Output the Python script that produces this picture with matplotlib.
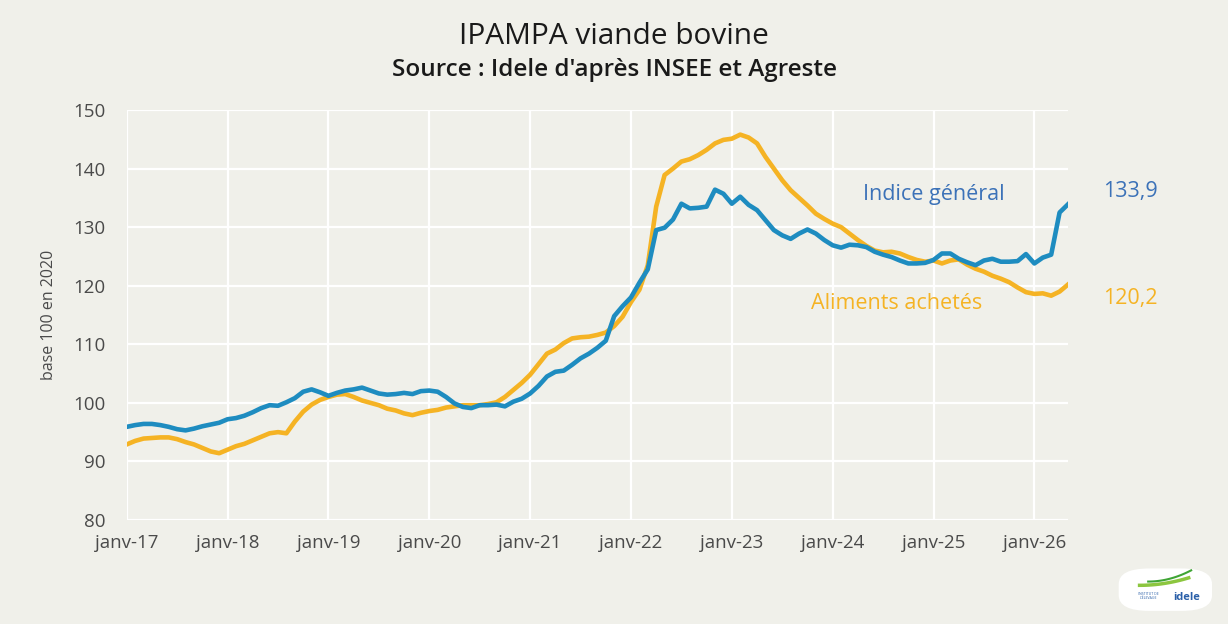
import numpy as np
import matplotlib
matplotlib.use("Agg")
import matplotlib.pyplot as plt
from matplotlib.patches import FancyBboxPatch

# monthly index, base 100 en 2020, janv-17 -> mai-26
indice_general = [
    95.9, 96.2, 96.4, 96.4, 96.2, 95.9, 95.5, 95.3, 95.6, 96.0, 96.3, 96.6,
    97.2, 97.4, 97.8, 98.4, 99.1, 99.6, 99.5, 100.1, 100.8, 101.9, 102.3, 101.8,
    101.2, 101.7, 102.1, 102.3, 102.6, 102.1, 101.6, 101.4, 101.5, 101.7, 101.5, 102.0,
    102.1, 101.9, 101.0, 99.9, 99.3, 99.1, 99.6, 99.6, 99.7, 99.4, 100.2, 100.7,
    101.6, 102.9, 104.5, 105.3, 105.5, 106.5, 107.6, 108.4, 109.4, 110.6, 114.8, 116.5,
    118.0, 120.5, 122.8, 129.5, 129.9, 131.3, 134.0, 133.2, 133.3, 133.5, 136.4, 135.7,
    134.0, 135.2, 133.8, 132.9, 131.2, 129.5, 128.6, 128.0, 128.9, 129.6, 128.9, 127.8,
    126.9, 126.5, 127.0, 126.9, 126.6, 125.8, 125.3, 124.9, 124.3, 123.8, 123.8, 123.9,
    124.4, 125.5, 125.5, 124.6, 124.0, 123.5, 124.3, 124.6, 124.1, 124.1, 124.2, 125.4,
    123.8, 124.8, 125.3, 132.5, 133.9,
]
aliments_achetes = [
    92.9, 93.5, 93.9, 94.0, 94.1, 94.1, 93.8, 93.3, 92.9, 92.3, 91.7, 91.4,
    92.0, 92.6, 93.0, 93.6, 94.2, 94.8, 95.0, 94.8, 96.8, 98.5, 99.7, 100.5,
    101.0, 101.4, 101.5, 101.0, 100.4, 100.0, 99.6, 99.0, 98.7, 98.2, 97.9, 98.3,
    98.6, 98.8, 99.2, 99.4, 99.6, 99.6, 99.6, 99.8, 100.1, 101.0, 102.2, 103.4,
    104.8, 106.6, 108.4, 109.1, 110.2, 111.0, 111.2, 111.3, 111.6, 112.0, 113.1, 114.7,
    117.2, 119.3, 123.5, 133.5, 138.9, 140.0, 141.2, 141.6, 142.3, 143.2, 144.3, 144.9,
    145.1, 145.8, 145.3, 144.3, 142.0, 140.0, 138.0, 136.3, 135.0, 133.7, 132.3, 131.4,
    130.6, 130.0, 128.9, 127.8, 126.8, 126.0, 125.7, 125.8, 125.5, 124.9, 124.4, 124.1,
    124.3, 123.8, 124.3, 124.5, 123.6, 122.9, 122.4, 121.7, 121.2, 120.6, 119.7, 118.9,
    118.6, 118.7, 118.3, 119.0, 120.2,
]
tick_labels = ["janv-17", "janv-18", "janv-19", "janv-20", "janv-21",
               "janv-22", "janv-23", "janv-24", "janv-25", "janv-26"]

bg = "#F0F0EA"
blue = "#1E8CC0"
orange = "#F5B324"
lab_blue = "#3C72B8"
txt = "#4A4A4A"

plt.rcParams["font.family"] = ["Open Sans", "DejaVu Sans"]

fig = plt.figure(figsize=(12.28, 6.24), dpi=100, facecolor=bg)
ax = fig.add_axes([0.1032, 0.1667, 0.7665, 0.657])
ax.set_facecolor(bg)

x = np.arange(len(indice_general))
ax.plot(x, aliments_achetes, color=orange, lw=3.3, solid_joinstyle="round", zorder=3)
ax.plot(x, indice_general, color=blue, lw=3.3, solid_joinstyle="round", zorder=4)

ax.set_xlim(0, len(x) - 1)
ax.set_ylim(80, 150)
ax.set_yticks(range(80, 151, 10))
ax.set_xticks(range(0, len(x), 12))
ax.set_xticklabels(tick_labels)
ax.grid(True, color="white", lw=1.6)
ax.set_axisbelow(True)
for s in ax.spines.values():
    s.set_visible(False)
ax.tick_params(length=0, labelsize=13.5, labelcolor=txt, pad=10)
ax.tick_params(axis="y", pad=15)
ax.set_ylabel("base 100 en 2020", fontsize=11.5, color=txt, labelpad=12)

fig.text(0.5, 0.941, "IPAMPA viande bovine", ha="center", va="center",
         fontsize=21.5, color="#1A1A1A")
fig.text(0.5, 0.888, "Source : Idele d'après INSEE et Agreste", ha="center",
         va="center", fontsize=17.5, fontweight="semibold", color="#1A1A1A")

# series labels and last values
ax.text(96, 135.6, "Indice général", color=lab_blue, fontsize=15.5, ha="center", va="center")
ax.text(91.6, 117.0, "Aliments achetés", color=orange, fontsize=15.5, ha="center", va="center")
ax.annotate(f"{indice_general[-1]:.1f}".replace(".", ","), (x[-1], indice_general[-1]),
            xytext=(25, 9), textcoords="offset points", color=lab_blue,
            fontsize=15.5, va="center", annotation_clip=False)
ax.annotate(f"{aliments_achetes[-1]:.1f}".replace(".", ","), (x[-1], aliments_achetes[-1]),
            xytext=(25, -10), textcoords="offset points", color=orange,
            fontsize=15.5, va="center", annotation_clip=False)

# logo bottom right
logo = FancyBboxPatch((0.915, 0.025), 0.068, 0.06, boxstyle="round,pad=0.004,rounding_size=0.025",
                      transform=fig.transFigure, facecolor="white", edgecolor="none")
fig.patches.append(logo)
t = np.linspace(0, 1, 30)
fig.add_artist(plt.Line2D(0.928 + 0.04 * t, 0.062 + 0.012 * t ** 2, transform=fig.transFigure,
                          color="#8CC63F", lw=2.5))
fig.add_artist(plt.Line2D(0.935 + 0.035 * t, 0.068 + 0.018 * t ** 2, transform=fig.transFigure,
                          color="#3FA535", lw=1.5))
fig.text(0.966, 0.038, "idele", color="#2A5FA8", fontsize=8, fontweight="bold", ha="center")
fig.text(0.935, 0.04, "INSTITUT DE\nL'ÉLEVAGE", color="#2A5FA8", fontsize=2.5, ha="center",
         linespacing=1.0)

fig.savefig("out.png", dpi=100, facecolor=bg)
